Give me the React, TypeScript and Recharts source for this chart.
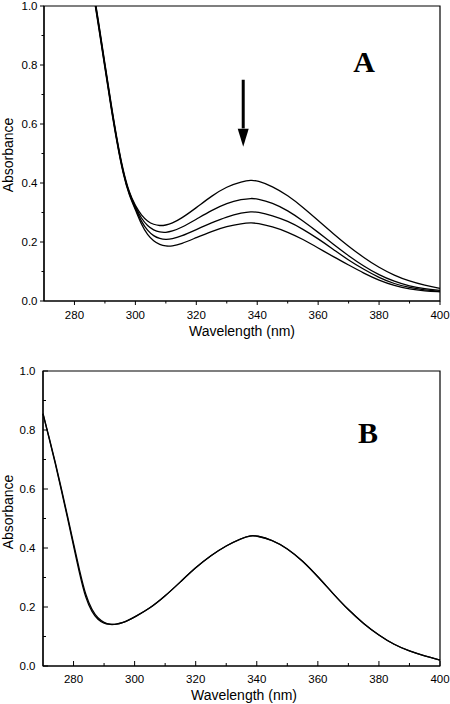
import React from "react";
import {
  Line,
  LineChart,
  ReferenceArea,
  ReferenceDot,
  ReferenceLine,
  XAxis,
  YAxis,
} from "recharts";

// ---- data ----
const wavelengthsA = [
  286, 288, 290, 292, 294, 296, 298, 300, 302, 304, 306, 308, 310, 312, 315,
  320, 325, 330, 335, 338, 340, 345, 350, 355, 360, 365, 370, 375, 380, 385,
  390, 395, 400,
];
const absA1 = [
  1.07, 0.94, 0.805, 0.67, 0.545, 0.44, 0.366, 0.322, 0.29, 0.27, 0.259,
  0.255, 0.257, 0.263, 0.279, 0.316, 0.356, 0.388, 0.405, 0.41, 0.408, 0.389,
  0.358, 0.318, 0.273, 0.228, 0.185, 0.147, 0.113, 0.087, 0.067, 0.053, 0.043,
];
const absA2 = [
  1.065, 0.935, 0.8, 0.665, 0.54, 0.435, 0.363, 0.318, 0.279, 0.254, 0.24,
  0.233, 0.232, 0.236, 0.248, 0.277, 0.307, 0.332, 0.345, 0.348, 0.347, 0.333,
  0.307, 0.272, 0.233, 0.192, 0.153, 0.118, 0.088, 0.066, 0.05, 0.041, 0.036,
];
const absA3 = [
  1.06, 0.93, 0.795, 0.66, 0.537, 0.432, 0.36, 0.314, 0.268, 0.238, 0.22,
  0.211, 0.208, 0.21, 0.219, 0.242, 0.265, 0.286, 0.299, 0.303, 0.302, 0.29,
  0.271, 0.244, 0.211, 0.175, 0.138, 0.107, 0.079, 0.058, 0.045, 0.037, 0.033,
];
const absA4 = [
  1.055, 0.925, 0.79, 0.655, 0.533, 0.428, 0.357, 0.31, 0.258, 0.224, 0.203,
  0.191, 0.186, 0.186, 0.193, 0.215, 0.236, 0.253, 0.263, 0.265, 0.264, 0.252,
  0.234, 0.209, 0.18, 0.15, 0.122, 0.094, 0.07, 0.052, 0.04, 0.034, 0.031,
];

const wavelengthsB = [
  270, 272, 274, 276, 278, 280, 282, 284, 286, 288, 290, 292, 294, 296, 298,
  300, 305, 310, 315, 320, 325, 330, 335, 338, 340, 345, 350, 355, 360, 365,
  370, 375, 380, 385, 390, 395, 400,
];
const absB1 = [
  0.855, 0.775, 0.692, 0.602, 0.51, 0.415, 0.322, 0.238, 0.19, 0.161, 0.147,
  0.141, 0.141, 0.146, 0.155, 0.166, 0.195, 0.237, 0.285, 0.334, 0.375, 0.408,
  0.433, 0.442, 0.441, 0.428, 0.399, 0.357, 0.303, 0.245, 0.19, 0.143, 0.104,
  0.072, 0.05, 0.034, 0.02,
];
const absB2 = [
  0.855, 0.772, 0.688, 0.597, 0.503, 0.408, 0.311, 0.228, 0.183, 0.156, 0.144,
  0.14, 0.141, 0.146, 0.155, 0.166, 0.195, 0.237, 0.285, 0.334, 0.375, 0.408,
  0.433, 0.443, 0.442, 0.428, 0.399, 0.357, 0.303, 0.245, 0.19, 0.143, 0.104,
  0.072, 0.05, 0.034, 0.02,
];

const xTicks = [280, 290, 300, 310, 320, 330, 340, 350, 360, 370, 380, 390, 400];
const yTicks = [0, 0.1, 0.2, 0.3, 0.4, 0.5, 0.6, 0.7, 0.8, 0.9, 1.0];

// arrow and panel letters, in data units
const arrowX = 335.4;
const arrowTop = 0.75;
const arrowHeadBase = 0.585;
const arrowTip = 0.523;
const letterA = { x: 375.1, y: 0.776 };
const letterB = { x: 376.4, y: 0.755 };

const dataA = wavelengthsA.map((wl, i) => ({
  wl,
  a1: absA1[i],
  a2: absA2[i],
  a3: absA3[i],
  a4: absA4[i],
}));
const dataB = wavelengthsB.map((wl, i) => ({ wl, b1: absB1[i], b2: absB2[i] }));

const SANS = '"Liberation Sans", Arial, sans-serif';
const SERIF = '"Liberation Serif", "Times New Roman", serif';

function makeXTick(inward: boolean, labelDy: number) {
  return (p: any) => {
    const v = p.payload.value;
    const major = v % 20 === 0;
    const len = major ? (inward ? 5 : 4) : inward ? 3 : 2.5;
    return (
      <g>
        <line
          x1={p.x}
          x2={p.x}
          y1={p.y}
          y2={inward ? p.y - len : p.y + len}
          stroke="#000"
          strokeWidth={1}
        />
        {major && (
          <text
            x={p.x}
            y={p.y + labelDy}
            textAnchor="middle"
            fontFamily={SANS}
            fontSize={11.5}
            fill="#000"
          >
            {v}
          </text>
        )}
      </g>
    );
  };
}

function makeYTick(inward: boolean, labelDx: number) {
  return (p: any) => {
    const v = p.payload.value;
    const major = Math.round(v * 10) % 2 === 0;
    const len = major ? (inward ? 5 : 4) : inward ? 3 : 2.5;
    return (
      <g>
        <line
          x1={p.x}
          x2={inward ? p.x + len : p.x - len}
          y1={p.y}
          y2={p.y}
          stroke="#000"
          strokeWidth={1}
        />
        {major && (
          <text
            x={p.x - labelDx}
            y={p.y + 4}
            textAnchor="end"
            fontFamily={SANS}
            fontSize={11.5}
            fill="#000"
          >
            {v.toFixed(1)}
          </text>
        )}
      </g>
    );
  };
}

function yTitle(x: number, cy: number) {
  return () => (
    <text
      x={x}
      y={cy}
      transform={`rotate(-90 ${x} ${cy})`}
      textAnchor="middle"
      dominantBaseline="central"
      fontFamily={SANS}
      fontSize={14}
      fill="#000"
    >
      Absorbance
    </text>
  );
}

function xTitle(cx: number, cy: number) {
  return () => (
    <text
      x={cx}
      y={cy}
      textAnchor="middle"
      dominantBaseline="central"
      fontFamily={SANS}
      fontSize={14}
      fill="#000"
    >
      Wavelength (nm)
    </text>
  );
}

function letter(text: string) {
  return (p: any) => (
    <text
      x={p.cx}
      y={p.cy}
      textAnchor="middle"
      fontFamily={SERIF}
      fontWeight="bold"
      fontSize={30}
      fill="#000"
    >
      {text}
    </text>
  );
}

const arrowHead = (p: any) => (
  <polygon
    points={`${p.cx},${p.cy} ${p.cx - 5.5},${p.cy - 18} ${p.cx + 5.5},${p.cy - 18}`}
    fill="#000"
  />
);

const lineStyle = { stroke: "#000", strokeWidth: 1.3, dot: false, isAnimationActive: false };

export default function App() {
  return (
    <div style={{ position: "absolute", left: 0, top: 0, width: 450, height: 704, background: "#fff" }}>
      <LineChart
        width={450}
        height={350}
        data={dataA}
        margin={{ top: 6, right: 10, left: 0, bottom: 0 }}
      >
        <XAxis
          dataKey="wl"
          type="number"
          domain={[270, 400]}
          ticks={xTicks}
          interval={0}
          height={49}
          tickSize={0}
          tickMargin={0}
          tickLine={false}
          axisLine={{ stroke: "#000", strokeWidth: 1.2 }}
          tick={makeXTick(false, 18)}
          label={{ content: xTitle(242, 331) }}
        />
        <YAxis
          type="number"
          domain={[0, 1]}
          allowDataOverflow
          ticks={yTicks}
          interval={0}
          width={44}
          tickSize={0}
          tickMargin={0}
          tickLine={false}
          axisLine={{ stroke: "#000", strokeWidth: 1.2 }}
          tick={makeYTick(false, 6.5)}
          label={{ content: yTitle(8, 155) }}
        />
        <ReferenceArea x1={270} x2={400} y1={0} y2={1} fill="none" stroke="#000" strokeWidth={1.2} />
        <Line type="basis" dataKey="a1" {...lineStyle} />
        <Line type="basis" dataKey="a2" {...lineStyle} />
        <Line type="basis" dataKey="a3" {...lineStyle} />
        <Line type="basis" dataKey="a4" {...lineStyle} />
        <ReferenceLine
          segment={[
            { x: arrowX, y: arrowTop },
            { x: arrowX, y: arrowHeadBase },
          ]}
          stroke="#000"
          strokeWidth={3}
        />
        <ReferenceDot x={arrowX} y={arrowTip} r={0} shape={arrowHead} />
        <ReferenceDot x={letterA.x} y={letterA.y} r={0} shape={letter("A")} />
      </LineChart>

      <div style={{ position: "absolute", left: 0, top: 350 }}>
        <LineChart
          width={450}
          height={354}
          data={dataB}
          margin={{ top: 21, right: 10, left: 0, bottom: 0 }}
        >
          <XAxis
            dataKey="wl"
            type="number"
            domain={[270, 400]}
            ticks={xTicks}
            interval={0}
            height={38}
            tickSize={0}
            tickMargin={0}
            tickLine={false}
            axisLine={{ stroke: "#000", strokeWidth: 1.2 }}
            tick={makeXTick(true, 16.5)}
            label={{ content: xTitle(244, 345) }}
          />
          <YAxis
            type="number"
            domain={[0, 1]}
            allowDataOverflow
            ticks={yTicks}
            interval={0}
            width={43}
            tickSize={0}
            tickMargin={0}
            tickLine={false}
            axisLine={{ stroke: "#000", strokeWidth: 1.2 }}
            tick={makeYTick(true, 7.5)}
            label={{ content: yTitle(8, 162) }}
          />
          <ReferenceArea x1={270} x2={400} y1={0} y2={1} fill="none" stroke="#000" strokeWidth={1.2} />
          <Line type="basis" dataKey="b1" {...lineStyle} />
          <Line type="basis" dataKey="b2" {...lineStyle} />
          <ReferenceDot x={letterB.x} y={letterB.y} r={0} shape={letter("B")} />
        </LineChart>
      </div>
    </div>
  );
}
